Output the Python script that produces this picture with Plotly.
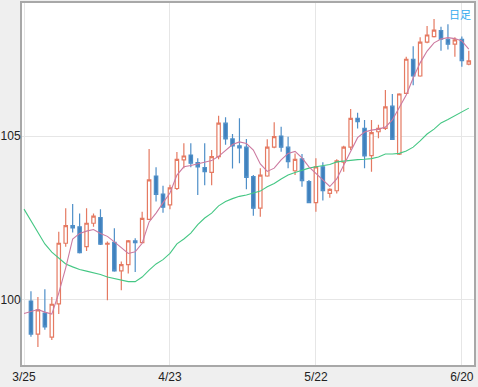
import plotly.graph_objects as go

# trading-day index: 0 = 3/25 ... 63 = 6/20
tick_idx = [0, 21, 42, 63]
tick_labels = ["3/25", "4/23", "5/22", "6/20"]

candle_idx = list(range(1, 65))
opens = [99.97, 98.96, 99.60, 98.87, 99.88, 101.73, 102.27, 102.23, 101.63, 102.34,
         102.51, 101.70, 101.76, 100.89, 101.08, 101.80, 101.75, 102.46, 103.78, 103.23,
         102.90, 103.40, 104.27, 104.42, 104.19, 104.04, 103.89, 104.37, 105.39, 104.91,
         104.70, 104.66, 103.76, 102.80, 103.78, 104.66, 105.00, 104.66, 103.94, 104.30,
         103.61, 102.97, 104.06, 103.25, 103.33, 104.20, 104.66, 105.54, 105.23, 104.40,
         105.13, 105.23, 105.91, 104.45, 106.30, 107.34, 106.83, 107.86, 108.03, 108.21,
         107.95, 107.80, 107.95, 107.19]
highs = [100.27, 100.09, 100.33, 100.09, 102.08, 102.80, 102.93, 102.64, 102.80, 102.64,
         102.77, 101.78, 102.19, 101.17, 101.83, 101.88, 102.69, 104.60, 104.05, 103.48,
         103.51, 104.51, 104.78, 104.78, 104.32, 104.78, 104.57, 105.62, 105.57, 105.06,
         105.54, 104.91, 103.81, 104.02, 104.90, 105.42, 105.28, 104.98, 104.47, 104.45,
         103.66, 104.32, 104.20, 103.41, 104.29, 104.70, 105.82, 105.71, 105.49, 105.49,
         105.34, 106.40, 106.28, 106.30, 107.42, 107.74, 108.01, 108.35, 108.57, 108.33,
         108.41, 108.01, 108.03, 107.60]
lows = [98.88, 98.57, 99.09, 98.78, 99.57, 101.62, 102.06, 101.42, 101.49, 102.23,
        101.68, 99.99, 100.86, 100.30, 100.81, 100.85, 101.73, 102.44, 103.00, 102.66,
        102.77, 103.35, 104.02, 104.05, 103.20, 103.50, 103.50, 104.29, 104.73, 104.01,
        104.17, 103.38, 102.57, 102.54, 103.76, 104.63, 104.52, 104.02, 103.81, 103.45,
        102.95, 102.69, 103.03, 103.12, 103.25, 103.91, 104.57, 105.23, 104.02, 103.91,
        104.93, 105.18, 104.88, 104.42, 106.28, 106.55, 106.81, 107.83, 108.00, 107.60,
        107.64, 107.42, 107.11, 107.16]
closes = [98.96, 99.70, 99.18, 99.87, 101.73, 102.27, 102.20, 101.44, 102.34, 102.56,
          101.70, 101.73, 100.89, 101.08, 101.80, 101.75, 102.49, 103.66, 103.22, 102.83,
          103.42, 104.29, 104.39, 104.17, 104.06, 103.91, 104.37, 105.39, 104.91, 104.70,
          104.64, 103.74, 102.80, 103.81, 104.66, 104.98, 104.66, 104.22, 104.29, 103.64,
          102.97, 104.06, 103.33, 103.37, 104.24, 104.66, 105.54, 105.44, 104.39, 105.10,
          105.23, 105.89, 104.90, 106.28, 107.34, 106.83, 107.86, 108.08, 108.23, 107.95,
          107.80, 107.93, 107.30, 107.29]

ma_idx = list(range(0, 65))
ma_short = [99.59, 99.66, 99.71, 99.63, 99.57, 100.21, 100.98, 101.86, 102.03, 102.10,
            102.15, 102.03, 101.94, 101.77, 101.59, 101.42, 101.47, 101.73, 102.38, 102.65,
            102.96, 103.26, 103.81, 104.06, 104.10, 104.15, 104.19, 104.25, 104.38, 104.56,
            104.74, 104.82, 104.77, 104.57, 104.15, 103.92, 104.02, 104.27, 104.47, 104.53,
            104.33, 104.06, 103.87, 103.66, 103.46, 103.69, 104.12, 104.56, 104.95, 105.12,
            105.18, 105.21, 105.27, 105.49, 105.85, 106.25, 106.77, 107.23, 107.59, 107.84,
            107.96, 108.00, 107.97, 107.90, 107.65]
ma_long = [102.77, 102.41, 102.07, 101.71, 101.46, 101.27, 101.10, 101.01, 100.93, 100.88,
           100.84, 100.78, 100.70, 100.66, 100.61, 100.56, 100.56, 100.70, 100.91, 101.10,
           101.23, 101.42, 101.71, 101.86, 102.04, 102.30, 102.50, 102.65, 102.87, 103.00,
           103.09, 103.16, 103.20, 103.25, 103.32, 103.45, 103.55, 103.69, 103.81, 103.89,
           103.96, 104.02, 104.06, 104.09, 104.13, 104.21, 104.24, 104.27, 104.28, 104.29,
           104.31, 104.36, 104.45, 104.45, 104.47, 104.54, 104.66, 104.85, 105.06, 105.21,
           105.40, 105.50, 105.61, 105.73, 105.85]

fig = go.Figure()
fig.add_trace(go.Scatter(x=ma_idx, y=ma_long, mode="lines",
                         line=dict(color="#45c784", width=1.1), hoverinfo="skip"))
fig.add_trace(go.Candlestick(
    x=candle_idx, open=opens, high=highs, low=lows, close=closes,
    increasing=dict(line=dict(color="#e57a62", width=1.2), fillcolor="rgba(255,255,255,1)"),
    decreasing=dict(line=dict(color="#4f8fc8", width=1.2), fillcolor="#3f80bd"),
    whiskerwidth=0))
fig.add_trace(go.Scatter(x=ma_idx, y=ma_short, mode="lines",
                         line=dict(color="#cc7aa0", width=1.1), hoverinfo="skip"))

fig.add_annotation(text="日足", xref="paper", yref="paper", x=1, y=1,
                   xanchor="right", yanchor="top", showarrow=False, xshift=-1, yshift=-1,
                   font=dict(family="Noto Sans CJK JP", size=11, color="#33aaee"))

fig.update_layout(
    width=478, height=387,
    margin=dict(l=22, r=4, t=3, b=22, autoexpand=False),
    paper_bgcolor="#efefef", plot_bgcolor="white",
    showlegend=False, boxgap=0.3,
    font=dict(family="Liberation Sans, Arial, sans-serif", size=12, color="#222"),
    xaxis=dict(range=[-0.29, 64.75], tickmode="array", tickvals=tick_idx, ticktext=tick_labels,
               showgrid=True, gridcolor="#e6e6e6", gridwidth=1, zeroline=False,
               showline=True, linecolor="#a8a8a8", linewidth=2, mirror=True,
               ticks="", rangeslider=dict(visible=False), fixedrange=True, automargin=False),
    yaxis=dict(range=[98.018, 109.055], tickmode="array", tickvals=[100, 105],
               ticktext=["100", "105"], showgrid=True, gridcolor="#e6e6e6", gridwidth=1,
               zeroline=False, showline=True, linecolor="#a8a8a8", linewidth=2, mirror=True,
               ticks="", ticklabelstandoff=-3, fixedrange=True, automargin=False),
)

fig.write_html("out.html", config={"displayModeBar": False},
               post_script="document.body.style.margin='0';document.body.style.overflow='hidden';")
